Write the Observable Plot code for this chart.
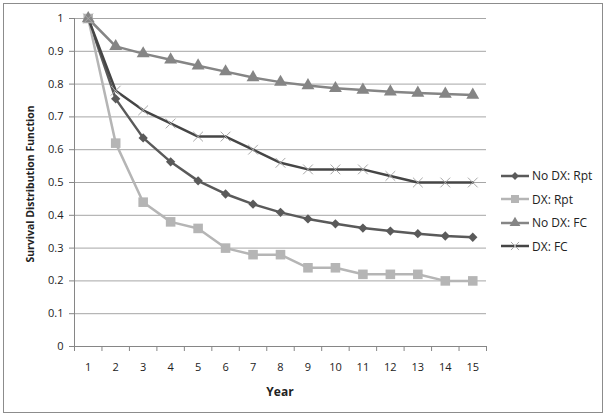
<!DOCTYPE html>
<html><head><meta charset="utf-8">
<script src="https://cdn.jsdelivr.net/npm/d3@7"></script>
<script src="https://cdn.jsdelivr.net/npm/@observablehq/plot@0.6"></script>
<style>
body{margin:0;background:#fff;font-family:"Open Sans",sans-serif;}
#wrap{position:relative;width:609px;height:420px;}
#frame{position:absolute;left:3px;top:3px;width:600px;height:410px;border:1.5px solid #8c8c8c;box-sizing:border-box;pointer-events:none;}
#legend{position:absolute;left:500px;top:164px;font-size:12px;color:#222;}
#legend .it{display:flex;align-items:center;height:23.5px;}
#legend svg{margin-right:2px;}
</style></head>
<body><div id="wrap"><div id="chart"></div><div id="frame"></div><div id="legend"></div></div>
<script>
const years = [1,2,3,4,5,6,7,8,9,10,11,12,13,14,15];
const seriesNames = ["No DX: Rpt","DX: Rpt","No DX: FC","DX: FC"];
const noDxRpt = [1,0.755,0.636,0.563,0.505,0.465,0.434,0.409,0.389,0.374,0.361,0.352,0.344,0.337,0.333];
const dxRpt   = [1,0.62,0.44,0.38,0.36,0.30,0.28,0.28,0.24,0.24,0.22,0.22,0.22,0.20,0.20];
const noDxFc  = [1,0.915,0.893,0.874,0.856,0.838,0.820,0.806,0.796,0.787,0.782,0.777,0.773,0.770,0.767];
const dxFc    = [1,0.78,0.72,0.68,0.64,0.64,0.60,0.56,0.54,0.54,0.54,0.52,0.50,0.50,0.50];
const yTicks = [0,0.1,0.2,0.3,0.4,0.5,0.6,0.7,0.8,0.9,1];

const valuesBySeries = [noDxRpt, dxRpt, noDxFc, dxFc];
const styles = [
  {line:"#5a5a5a", mark:"#5a5a5a", symbol:"diamond2", r:4.2, fill:true},
  {line:"#b5b5b5", mark:"#b5b5b5", symbol:"square", r:5.4, fill:true},
  {line:"#858585", mark:"#858585", symbol:"triangle", r:4.8, fill:true},
  {line:"#454545", mark:"#a8a8a8", symbol:"times", r:4.5, fill:false}
];
const data = seriesNames.flatMap((s,i)=>years.map((y,j)=>({series:s, idx:i, year:y, value:valuesBySeries[i][j]})));
const bounds = d3.range(0.5, 15.51, 1);

const marks = [
  Plot.gridY(yTicks.filter(d=>d>0), {stroke:"#a6a6a6", strokeOpacity:1, strokeWidth:1}),
  Plot.ruleX([0.5], {stroke:"#868686"}),
  Plot.ruleY([0], {stroke:"#868686"}),
  Plot.axisX({ticks:bounds, tickSize:5, tickFormat:()=>"", stroke:"#868686", label:null}),
  Plot.axisX({ticks:years, tickSize:0, tickPadding:17, tickFormat:d=>String(d), label:null}),
  Plot.axisY({ticks:yTicks, tickSize:5, tickPadding:6, tickFormat:d=>String(d), stroke:"#868686", label:null})
];
seriesNames.forEach((s,i)=>{
  const d = data.filter(e=>e.idx===i);
  const st = styles[i];
  marks.push(Plot.line(d, {x:"year", y:"value", stroke:st.line, strokeWidth:2.5}));
});
seriesNames.forEach((s,i)=>{
  const d = data.filter(e=>e.idx===i);
  const st = styles[i];
  marks.push(Plot.dot(d, st.fill ? {x:"year", y:"value", symbol:()=>st.symbol, r:st.r, fill:st.mark, stroke:"none"}
                               : {x:"year", y:"value", symbol:()=>st.symbol, r:st.r, stroke:st.mark, strokeWidth:1, fill:"none"}));
});

const chart = Plot.plot({
  width:609, height:420,
  marginLeft:74, marginRight:123, marginTop:18, marginBottom:74,
  style:{fontFamily:"Open Sans, sans-serif", fontSize:"11px", color:"#222", background:"#fff"},
  x:{domain:[0.5,15.5], label:null},
  y:{domain:[0,1], label:null},
  symbol:{type:"identity"},
  marks
});
document.getElementById("chart").appendChild(chart);

// axis titles
const svg = d3.select(chart);
svg.append("text").attr("x",280).attr("y",396).attr("text-anchor","middle")
  .attr("font-weight","bold").attr("font-size","12px").attr("fill","#222").text("Year");
svg.append("text").attr("transform","translate(34,184) rotate(-90)").attr("text-anchor","middle")
  .attr("font-weight","bold").attr("font-size","10.5px").attr("fill","#222").text("Survival Distribution Function");

// legend
const leg = d3.select("#legend");
seriesNames.forEach((s,i)=>{
  const st = styles[i];
  const it = leg.append("div").attr("class","it");
  const sv = it.append("svg").attr("width",30).attr("height",14);
  sv.append("line").attr("x1",1).attr("x2",29).attr("y1",7).attr("y2",7).attr("stroke",st.line).attr("stroke-width",2.5);
  const sym = ({diamond2:d3.symbolDiamond2, square:d3.symbolSquare, triangle:d3.symbolTriangle, times:d3.symbolTimes})[st.symbol];
  const p = sv.append("path").attr("transform","translate(15,7)").attr("d", d3.symbol(sym, st.r*st.r*Math.PI*0.7)());
  if (st.fill) p.attr("fill",st.mark); else p.attr("fill","none").attr("stroke",st.mark);
  it.append("span").text(s);
});
</script></body></html>
